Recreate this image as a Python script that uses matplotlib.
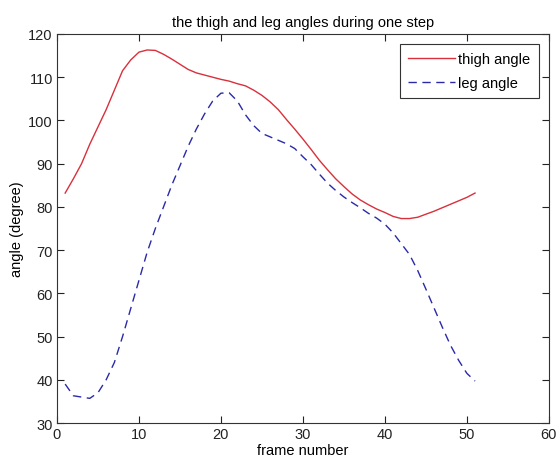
import numpy as np
import matplotlib
matplotlib.use("Agg")
from matplotlib import pyplot as plt

# frame index and the two measured angles (degrees)
frames = np.arange(1, 52)
thigh = [83.2, 86.5, 90.0, 94.5, 98.5, 102.5, 107.0, 111.5, 114.0, 115.8,
         116.3, 116.2, 115.3, 114.2, 113.0, 111.8, 111.0, 110.5, 110.0, 109.5,
         109.1, 108.5, 108.0, 107.0, 105.8, 104.3, 102.5, 100.2, 98.0, 95.7,
         93.3, 90.8, 88.6, 86.5, 84.7, 83.0, 81.6, 80.5, 79.5, 78.7,
         77.8, 77.3, 77.3, 77.6, 78.3, 79.0, 79.8, 80.6, 81.4, 82.2,
         83.2]
leg = [39.0, 36.3, 36.0, 35.7, 37.0, 40.0, 44.0, 50.0, 56.5, 63.0,
       69.5, 75.0, 80.0, 85.0, 89.5, 94.0, 98.0, 101.5, 104.5, 106.3,
       106.4, 104.5, 101.3, 98.8, 97.0, 96.2, 95.4, 94.6, 93.5, 91.6,
       89.8, 87.6, 85.5, 83.8, 82.3, 81.0, 79.8, 78.5, 77.4, 76.0,
       74.0, 71.5, 69.0, 65.3, 61.0, 56.6, 52.2, 48.0, 44.5, 41.5,
       39.7]

plt.rcParams['font.family'] = ['Liberation Sans', 'DejaVu Sans']
fs = 10.5

fig = plt.figure(figsize=(5.57, 4.64), dpi=100)
ax = fig.add_axes([0.1023, 0.0862, 0.883, 0.8384])

ax.plot(frames, thigh, '-', color='#d8303c', lw=1.0, label='thigh angle')
ax.plot(frames, leg, '--', color='#2a2aa8', lw=1.0, dashes=(6, 4), label='leg angle')

ax.set_xlim(0, 60)
ax.set_ylim(30, 120)
ax.set_xticks(np.arange(0, 61, 10))
ax.set_yticks(np.arange(30, 121, 10))
ax.tick_params(direction='in', top=True, right=True, length=5, width=0.8,
               labelsize=fs, pad=3, colors='#222222')
for s in ax.spines.values():
    s.set_linewidth(0.8)
    s.set_color('#333333')

ax.set_title('the thigh and leg angles during one step', fontsize=fs, pad=6)
ax.set_xlabel('frame number', fontsize=fs, labelpad=1)
ax.set_ylabel('angle (degree)', fontsize=fs, labelpad=3)

leg_box = ax.legend(loc='upper right', fancybox=False, framealpha=1,
                    edgecolor='#333333', fontsize=fs, handlelength=3.2,
                    borderaxespad=0.7, borderpad=0.55, handletextpad=0.25,
                    labelspacing=0.65)
leg_box.get_frame().set_linewidth(0.8)

fig.savefig("out.png", dpi=100)
